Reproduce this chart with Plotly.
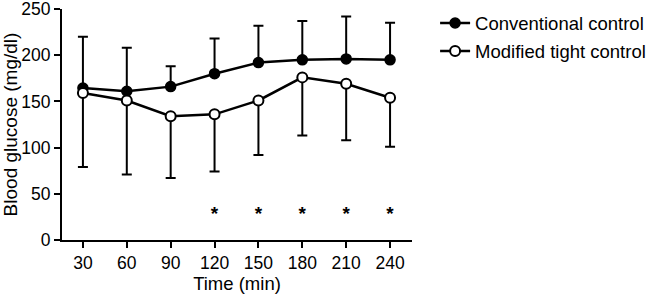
import plotly.graph_objects as go

# Data
time_min = [30, 60, 90, 120, 150, 180, 210, 240]
conv_mean = [164.5, 161, 166, 180, 192, 195, 196, 195]
conv_upper = [220, 208, 188, 218, 232, 237, 242, 235]
mod_mean = [159, 151, 134, 136, 151, 176, 169, 154]
mod_lower = [79, 71, 67, 74, 92, 113, 108, 101]
sig_times = [120, 150, 180, 210, 240]
sig_level = 27
x_ticks = [30, 60, 90, 120, 150, 180, 210, 240]
y_ticks = [0, 50, 100, 150, 200, 250]

FONT = "Liberation Sans, Arial, sans-serif"

fig = go.Figure()

fig.add_trace(go.Scatter(
    x=time_min, y=conv_mean, mode="lines+markers", name="Conventional control",
    legendgroup="a",
    line=dict(color="black", width=2.5),
    marker=dict(symbol="circle", size=10, color="black", line=dict(color="black", width=1.5)),
    error_y=dict(type="data", symmetric=False,
                 array=[u - m for u, m in zip(conv_upper, conv_mean)],
                 arrayminus=[0] * len(conv_mean),
                 color="black", thickness=2, width=5),
))

fig.add_trace(go.Scatter(
    x=time_min, y=mod_mean, mode="lines+markers", name="Modified tight control",
    legendgroup="b",
    line=dict(color="black", width=2.5),
    marker=dict(symbol="circle", size=10, color="white", line=dict(color="black", width=2)),
    error_y=dict(type="data", symmetric=False,
                 array=[0] * len(mod_mean),
                 arrayminus=[m - l for m, l in zip(mod_mean, mod_lower)],
                 color="black", thickness=2, width=5),
))

fig.add_trace(go.Scatter(
    x=sig_times, y=[sig_level] * len(sig_times), mode="text", text=["*"] * len(sig_times),
    textposition="middle center",
    textfont=dict(family=FONT, size=19, color="black", weight="bold"),
    showlegend=False, hoverinfo="skip",
))

fig.update_layout(
    width=651, height=296,
    margin=dict(l=62, r=239, t=9, b=56, autoexpand=False),
    paper_bgcolor="white", plot_bgcolor="white",
    font=dict(family=FONT, size=18, color="black"),
    showlegend=True,
    legend=dict(x=1.066, y=0.985, xanchor="left", yanchor="top", yref="container",
                font=dict(family=FONT, size=18.5, color="black"),
                bgcolor="rgba(0,0,0,0)", tracegroupgap=1),
    xaxis=dict(range=[15.7, 255], tickvals=x_ticks, ticks="outside", ticklen=6, tickwidth=2,
               tickcolor="black", showline=True, linewidth=2, linecolor="black",
               showgrid=False, zeroline=False, automargin=False, ticklabeloverflow="allow",
               tickfont=dict(family=FONT, size=17.5, color="black"),
               title=dict(text="Time (min)", font=dict(family=FONT, size=18.5, color="black"), standoff=3)),
    yaxis=dict(range=[0, 250], tickvals=y_ticks, ticks="outside", ticklen=6, tickwidth=2,
               tickcolor="black", showline=True, linewidth=2, linecolor="black",
               showgrid=False, zeroline=False, automargin=False, ticklabeloverflow="allow",
               tickfont=dict(family=FONT, size=17.5, color="black"),
               title=dict(text="Blood glucose (mg/dl)", font=dict(family=FONT, size=19, color="black"), standoff=1)),
)

fig.write_html("out.html", config={"displayModeBar": False},
               post_script="document.body.style.margin='0';")
